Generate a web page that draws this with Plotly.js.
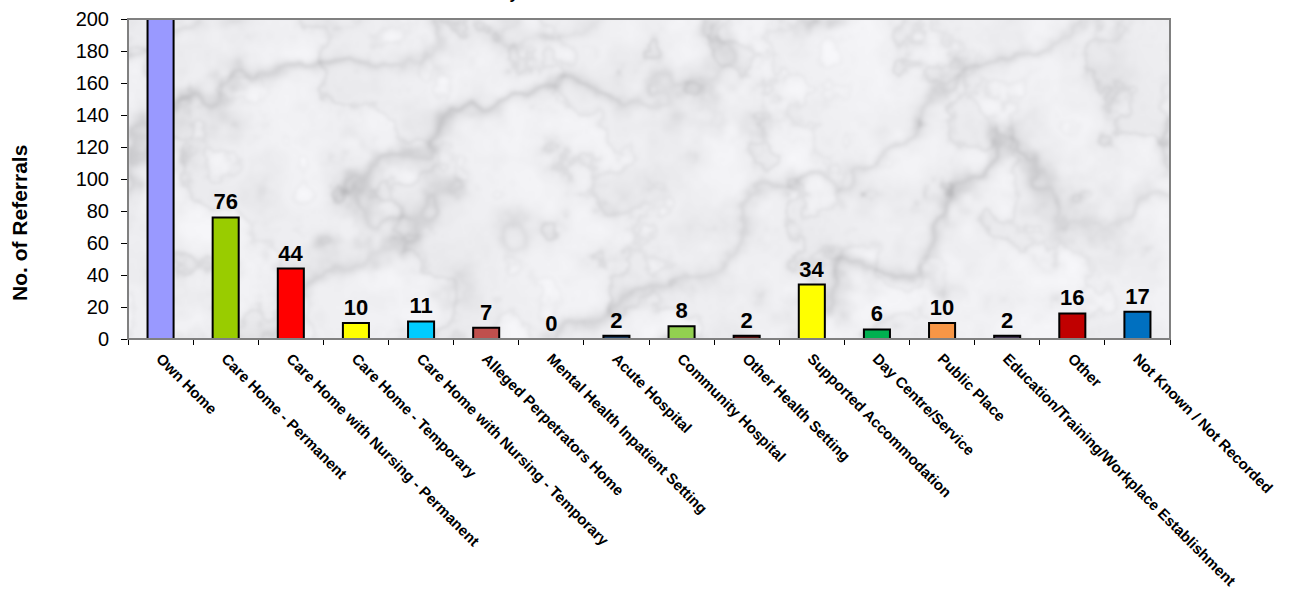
<!DOCTYPE html>
<html>
<head>
<meta charset="utf-8">
<script src="https://cdn.plot.ly/plotly-3.0.1.min.js"></script>
<style>html,body{margin:0;padding:0;background:#fff;}#chart{width:1289px;height:593px;}</style>
</head>
<body>
<div id="chart"></div>
<script>
const categories = [
  "Own Home",
  "Care Home - Permanent",
  "Care Home with Nursing - Permanent",
  "Care Home - Temporary",
  "Care Home with Nursing - Temporary",
  "Alleged Perpetrators Home",
  "Mental Health Inpatient Setting",
  "Acute Hospital",
  "Community Hospital",
  "Other Health Setting",
  "Supported Accommodation",
  "Day Centre/Service",
  "Public Place",
  "Education/Training/Workplace Establishment",
  "Other",
  "Not Known / Not Recorded"
];
const referrals = [250, 76, 44, 10, 11, 7, 0, 2, 8, 2, 34, 6, 10, 2, 16, 17];
const barColors = ["#9999FF","#99CC00","#FF0000","#FFFF00","#00CCFF","#C0504D","#9999FF","#17375E",
                   "#92D050","#5C1010","#FFFF00","#00B050","#F79646","#3F3151","#C00000","#0070C0"];
const chartTitle = "Referrals by Location of Abuse";
const yTitle = "No. of Referrals";

// decorative marble texture for the plot background (style only)
function marbleTexture(w, h) {
  const c = document.createElement("canvas");
  c.width = w; c.height = h;
  const ctx = c.getContext("2d");
  const img = ctx.createImageData(w, h);
  function hash(i, j) {
    let n = (i * 374761393 + j * 668265263) | 0;
    n = Math.imul(n ^ (n >>> 13), 1274126177);
    n = n ^ (n >>> 16);
    return (n >>> 0) / 4294967295;
  }
  function noise(x, y) {
    const xi = Math.floor(x), yi = Math.floor(y);
    const xf = x - xi, yf = y - yi;
    const u = xf * xf * (3 - 2 * xf), v = yf * yf * (3 - 2 * yf);
    const a = hash(xi, yi), b = hash(xi + 1, yi), cc = hash(xi, yi + 1), d = hash(xi + 1, yi + 1);
    return a + (b - a) * u + (cc - a) * v + (a - b - cc + d) * u * v;
  }
  function fbm(x, y, oct) {
    let s = 0, amp = 0.5, f = 1;
    for (let o = 0; o < oct; o++) { s += amp * noise(x * f, y * f); f *= 2; amp *= 0.5; }
    return s;
  }
  for (let y = 0; y < h; y++) {
    for (let x = 0; x < w; x++) {
      const t = fbm(x / 110, y / 110, 5);
      const t2 = fbm(x / 35 + 17, y / 35 + 9, 4);
      const vein = Math.pow(1 - Math.abs(Math.sin((x * 0.010 + y * 0.016) + t * 7)), 3);
      const vein2 = Math.pow(1 - Math.abs(Math.sin((x * 0.016 - y * 0.008) + t2 * 6)), 4);
      let g = 250 - 22 * t2 - 55 * vein * t - 30 * vein2 * t2;
      g = Math.max(140, Math.min(252, g));
      const k = (y * w + x) * 4;
      img.data[k] = g; img.data[k + 1] = g; img.data[k + 2] = g + 3; img.data[k + 3] = 255;
    }
  }
  ctx.putImageData(img, 0, 0);
  const c2 = document.createElement("canvas");
  c2.width = w; c2.height = h;
  const ctx2 = c2.getContext("2d");
  ctx2.fillStyle = "#ebebee";
  ctx2.fillRect(0, 0, w, h);
  ctx2.filter = "blur(1.5px)";
  ctx2.drawImage(c, 0, 0);
  return c2.toDataURL("image/png");
}

const trace = {
  type: "bar",
  x: categories,
  y: referrals,
  marker: {color: barColors, line: {color: "#000000", width: 2}},
  text: referrals.map(String),
  textposition: "outside",
  cliponaxis: true,
  textfont: {family: "Liberation Sans, Arial, sans-serif", size: 22, color: "#000", weight: "bold"},
  hoverinfo: "x+y"
};

const layout = {
  width: 1289, height: 593,
  margin: {l: 128, r: 119, t: 19, b: 254, pad: 0},
  paper_bgcolor: "#ffffff",
  plot_bgcolor: "rgba(0,0,0,0)",
  bargap: 0.6,
  showlegend: false,
  font: {family: "Liberation Sans, Arial, sans-serif", color: "#000"},
  xaxis: {
    type: "category",
    tickangle: 45,
    tickfont: {size: 15, weight: "bold", family: "Liberation Sans, Arial, sans-serif"},
    showline: true, linecolor: "#000", linewidth: 1,
    ticks: "outside", ticklen: 5, tickcolor: "#000", tickson: "boundaries",
    ticklabelstandoff: 4,
    showgrid: false, zeroline: false, automargin: false
  },
  yaxis: {
    range: [0, 200],
    dtick: 20,
    tickfont: {size: 20},
    showline: true, linecolor: "#000", linewidth: 1,
    ticks: "outside", ticklen: 6, tickcolor: "#000",
    ticklabelstandoff: 8,
    showgrid: false, zeroline: false, automargin: false
  },
  images: [{
    source: marbleTexture(1042, 320),
    xref: "paper", yref: "paper", x: 0, y: 1, sizex: 1, sizey: 1,
    xanchor: "left", yanchor: "top", sizing: "stretch", layer: "below"
  }],
  shapes: [{
    type: "rect", xref: "paper", yref: "paper", x0: 0, x1: 1, y0: 0, y1: 1,
    line: {color: "#808080", width: 2}, layer: "above"
  }],
  annotations: [{
    text: chartTitle, xref: "paper", yref: "paper", x: 0.399, y: 1,
    xanchor: "center", yanchor: "bottom", yshift: 15, showarrow: false,
    font: {size: 16, weight: "bold"}
  }, {
    text: yTitle, xref: "paper", yref: "paper", x: -0.1046, y: 0.3625,
    xanchor: "center", yanchor: "middle", textangle: -90, showarrow: false,
    font: {size: 21, weight: "bold"}
  }]
};

Plotly.newPlot("chart", [trace], layout, {displayModeBar: false, staticPlot: true});
</script>
</body>
</html>
